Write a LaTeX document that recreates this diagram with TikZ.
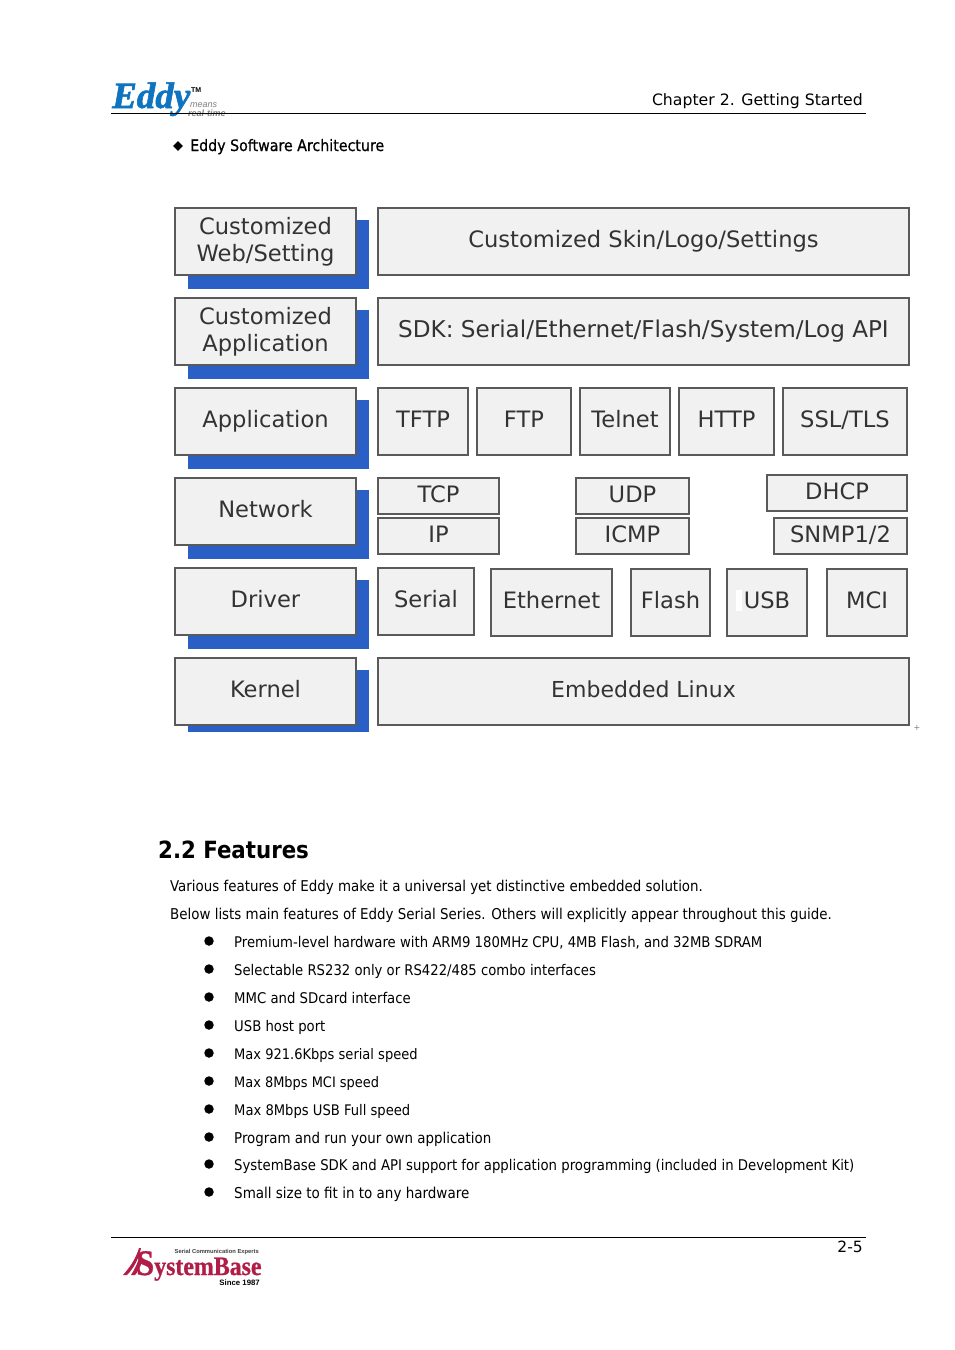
\documentclass[tikz,border=0pt]{standalone}
\usepackage{fontspec}
\usetikzlibrary{shapes.geometric}
\setmainfont{DejaVu Sans Condensed}
\newfontfamily\djv{DejaVu Sans}
\newfontfamily\subf[FakeBold=0.7]{DejaVu Sans Condensed}
\newfontfamily\lserifheavy[FakeBold=1.6]{Liberation Serif Bold Italic}
\newfontfamily\sbfont[FakeBold=0.8,FakeStretch=0.9]{Liberation Serif Bold}
\newfontfamily\lsans{Liberation Sans}
\definecolor{boxfill}{HTML}{F1F1F1}
\definecolor{boxline}{HTML}{5A5A5A}
\definecolor{shade}{HTML}{2A5FC6}
\definecolor{boxtext}{HTML}{333333}
\definecolor{eddyblue}{HTML}{0F74C0}
\definecolor{sbred}{HTML}{B01E48}
\tikzset{
  lay/.style={draw=boxline,fill=boxfill,line width=1.4pt},
  laytext/.style={text=boxtext,align=center,inner sep=0pt,font=\djv\fontsize{22.6}{27}\selectfont},
  bodyline/.style={anchor=base west,inner sep=0pt,text=black,font=\fontsize{14.9}{18}\selectfont},
  bulletdot/.style={circle,fill=black,inner sep=0pt,minimum size=9.5pt},
  rulelinee/.style={draw=black,line width=0.9pt},
  shadebar/.style={fill=shade,draw=none}
}
% x0 y0 x1 y1 name text
\newcommand{\laybox}[6]{\path[lay] (#1,#2) rectangle (#3,#4);
  \node[laytext] (#5) at ({(#1+#3)/2},{(#2+#4)/2}) {\rule{0pt}{17pt}#6\rule[-5pt]{0pt}{5pt}};}
\newcommand{\layshade}[2]{\fill[shadebar] (188,#1) rectangle (369,#2);}
\begin{document}
\begin{tikzpicture}[x=1pt,y=-1pt]
\useasboundingbox (0,0) rectangle (954,1350);
\fill[white] (0,0) rectangle (954,1350);
% header
\node[anchor=base west,inner sep=0pt,text=eddyblue,font=\lserifheavy\fontsize{37}{37}\selectfont] (eddy) at (112,108) {Eddy};
\node[anchor=base west,inner sep=0pt,font=\lsans\bfseries\fontsize{7}{7}\selectfont] (tm) at (191,92) {TM};
\node[anchor=base west,inner sep=0pt,text=gray,font=\lsans\itshape\fontsize{9}{9}\selectfont] (means) at (190,107) {means};
\node[anchor=base west,inner sep=0pt,text=gray,font=\lsans\bfseries\itshape\fontsize{9}{9}\selectfont] (rt) at (188,116) {real-time};
\node[anchor=base east,inner sep=0pt,font=\djv\fontsize{15.7}{18}\selectfont] (chap) at (863,105) {Chapter 2. Getting Started};
\draw[rulelinee] (111,113) -- (866,113);
\node[diamond,fill=black,inner sep=0pt,minimum size=10pt] (dia) at (178,146) {};
\node[anchor=base west,inner sep=0pt,font=\subf\fontsize{15.8}{18}\selectfont] (sub) at (190,151) {Eddy Software Architecture};
% diagram left column
\layshade{220}{289}\laybox{175}{208}{356}{275}{c1}{Customized\\Web/Setting}
\layshade{310}{379}\laybox{175}{298}{356}{365}{c2}{Customized\\Application}
\layshade{400}{469}\laybox{175}{388}{356}{455}{c3}{Application}
\layshade{490}{559}\laybox{175}{478}{356}{545}{c4}{Network}
\layshade{580}{649}\laybox{175}{568}{356}{635}{c5}{Driver}
\layshade{670}{732}\laybox{175}{658}{356}{725}{c6}{Kernel}
% right
\laybox{378}{208}{909}{275}{skin}{Customized Skin/Logo/Settings}
\laybox{378}{298}{909}{365}{sdk}{\fontsize{23.1}{27}\selectfont SDK: Serial/Ethernet/Flash/System/Log API}
\laybox{378}{388}{468}{455}{tftp}{TFTP}
\laybox{477}{388}{571}{455}{ftp}{FTP}
\laybox{580}{388}{670}{455}{telnet}{Telnet}
\laybox{679}{388}{774}{455}{http}{HTTP}
\laybox{783}{388}{907}{455}{ssl}{SSL/TLS}
\laybox{378}{478}{499}{514}{tcp}{TCP}
\laybox{378}{518}{499}{554}{ip}{IP}
\laybox{576}{478}{689}{514}{udp}{UDP}
\laybox{576}{518}{689}{554}{icmp}{ICMP}
\laybox{767}{475}{907}{511}{dhcp}{DHCP}
\laybox{774}{518}{907}{554}{snmp}{SNMP1/2}
\laybox{378}{568}{474}{635}{serial}{Serial}
\laybox{491}{569}{612}{636}{eth}{Ethernet}
\laybox{631}{569}{710}{636}{flash}{Flash}
\laybox{727}{569}{807}{636}{usb}{USB}
\fill[white] (736,590) rectangle (742,611);
\laybox{827}{569}{907}{636}{mci}{MCI}
\laybox{378}{658}{909}{725}{linux}{\fontsize{22}{27}\selectfont Embedded Linux}
\node[text=gray,inner sep=0pt,font=\djv\fontsize{8}{8}\selectfont] (plus) at (917,728) {+};
% features
\node[anchor=base west,inner sep=0pt,font=\bfseries\fontsize{23.7}{28}\selectfont] (feat) at (158,858) {2.2 Features};
\node[bodyline] (l1) at (170,891) {Various features of Eddy make it a universal yet distinctive embedded solution.};
\node[bodyline] (l2) at (170,919) {Below lists main features of Eddy Serial Series. Others will explicitly appear throughout this guide.};
\foreach \yy/\sz/\txt in {947/14.72/{Premium-level hardware with ARM9 180MHz CPU, 4MB Flash, and 32MB SDRAM},
  975/14.7/{Selectable RS232 only or RS422/485 combo interfaces},
  1003/14.75/{MMC and SDcard interface},
  1031/14.7/{USB host port},
  1059/14.5/{Max 921.6Kbps serial speed},
  1087/14.4/{Max 8Mbps MCI speed},
  1115/14.6/{Max 8Mbps USB Full speed},
  1143/14.9/{Program and run your own application},
  1170/14.76/{SystemBase SDK and API support for application programming (included in Development Kit)},
  1198/15/{Small size to fit in to any hardware}}{
  \node[bulletdot] at (209,\yy-6) {};
  \node[bodyline] at (234,\yy) {\fontsize{\sz}{18}\selectfont\txt};
}
% footer
\draw[rulelinee] (111,1237) -- (866,1237);
\node[anchor=base east,inner sep=0pt,font=\djv\fontsize{15.5}{18}\selectfont] (pg) at (863,1252.5) {2-5};
\fill[sbred] (123,1275) .. controls (131,1266) and (136,1258) .. (139,1248) -- (141,1248) .. controls (139,1258) and (134,1268) .. (127,1275) -- cycle;
\fill[sbred] (131,1275) .. controls (135,1269) and (138,1262) .. (140,1255) -- (142,1262) .. controls (140,1267) and (138,1272) .. (135,1275) -- cycle;
\node[anchor=base west,inner sep=0pt,text=sbred,font=\sbfont\fontsize{26.5}{26}\selectfont] (sb) at (136,1275) {{\fontsize{36}{36}\selectfont S}ystemBase};
\node[anchor=base east,inner sep=0pt,font=\lsans\bfseries\fontsize{5.8}{6}\selectfont,text=black!75] (sce) at (259,1253) {Serial Communication Experts};
\node[anchor=base east,inner sep=0pt,font=\lsans\bfseries\fontsize{7.8}{8}\selectfont] (since) at (260,1285) {Since 1987};
\end{tikzpicture}
\end{document}
